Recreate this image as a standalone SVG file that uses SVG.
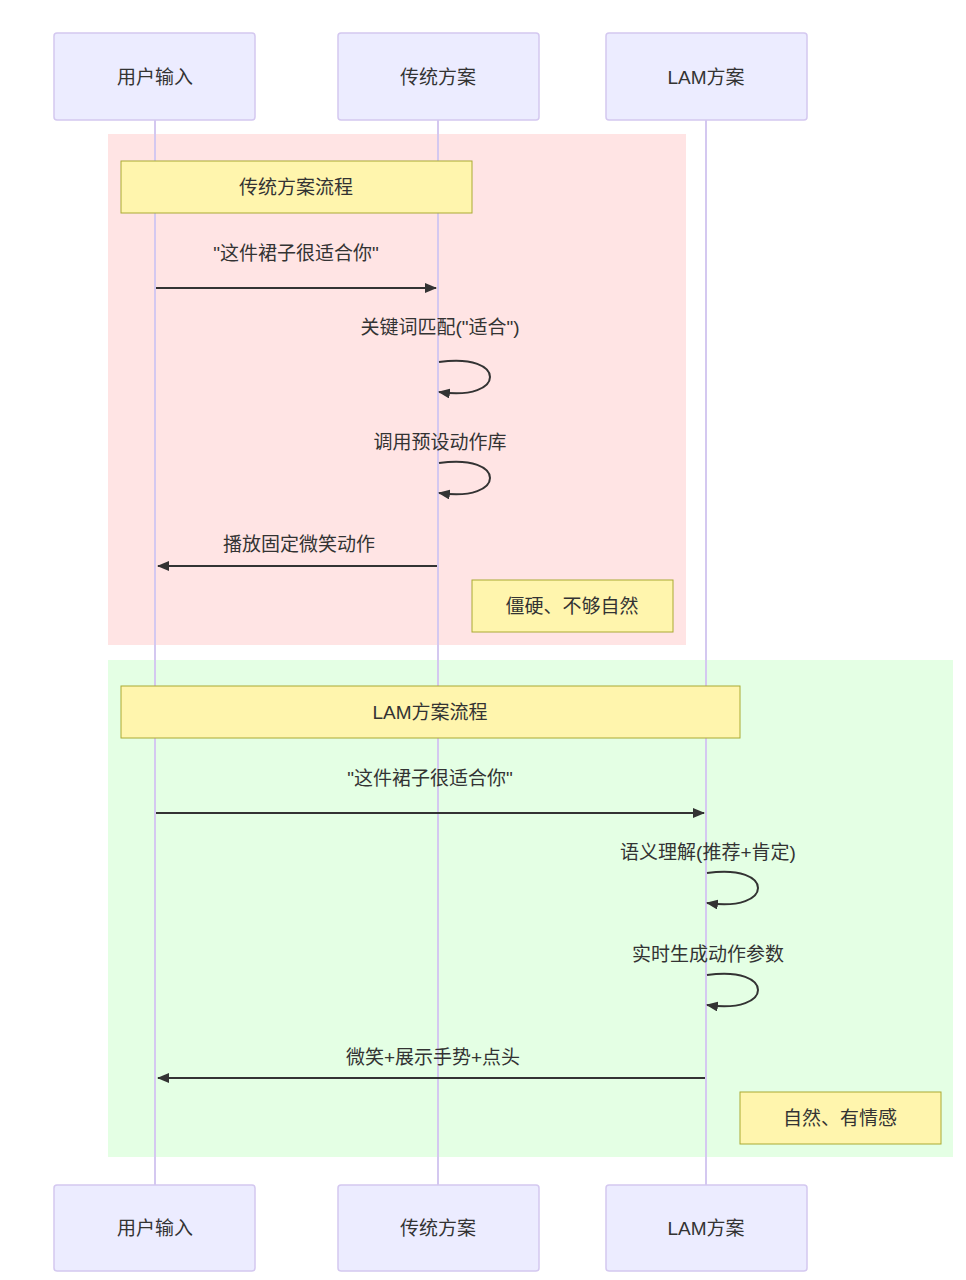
<svg xmlns="http://www.w3.org/2000/svg" width="966" height="1280" viewBox="0 0 966 1280">
<style>
text{font-family:"Liberation Sans","Noto Sans CJK SC",sans-serif;font-size:19px;fill:#333;text-anchor:middle;dominant-baseline:central}
.actor{fill:#ececff;stroke:#d4c8f0;stroke-width:1.5}
.note{fill:#fff5ad;stroke:#aaaa33;stroke-width:1}
.life{stroke:#d4c8f0;stroke-width:2}
.msg{stroke:#333;stroke-width:2;fill:none}
</style>
<defs><marker id="ah" viewBox="0 0 12 10" refX="11" refY="5" markerWidth="12" markerHeight="10" orient="auto" markerUnits="userSpaceOnUse"><path d="M0,0L12,5L0,10z" fill="#333"/></marker></defs>
<rect x="108" y="134" width="578" height="511" fill="#ffe4e4"/>
<rect x="108" y="660" width="845" height="497" fill="#e4ffe4"/>
<g id="lifelines">
<line class="life" x1="155" y1="120" x2="155" y2="1185"/>
<line class="life" x1="438" y1="120" x2="438" y2="1185"/>
<line class="life" x1="706" y1="120" x2="706" y2="1185"/>
</g>
<g id="p1"><rect class="actor" x="54" y="33" width="201" height="87" rx="3"/><text x="155" y="77">用户输入</text></g>
<g id="p2"><rect class="actor" x="338" y="33" width="201" height="87" rx="3"/><text x="438" y="77">传统方案</text></g>
<g id="p3"><rect class="actor" x="606" y="33" width="201" height="87" rx="3"/><text x="706" y="77">LAM方案</text></g>
<g id="p1b"><rect class="actor" x="54" y="1185" width="201" height="86" rx="3"/><text x="155" y="1228">用户输入</text></g>
<g id="p2b"><rect class="actor" x="338" y="1185" width="201" height="86" rx="3"/><text x="438" y="1228">传统方案</text></g>
<g id="p3b"><rect class="actor" x="606" y="1185" width="201" height="86" rx="3"/><text x="706" y="1228">LAM方案</text></g>
<g id="n1"><rect class="note" x="121" y="161" width="351" height="52"/><text x="296" y="187">传统方案流程</text></g>
<g id="n2"><rect class="note" x="472" y="580" width="201" height="52"/><text x="572" y="606">僵硬、不够自然</text></g>
<g id="n3"><rect class="note" x="121" y="686" width="619" height="52"/><text x="430" y="712">LAM方案流程</text></g>
<g id="n4"><rect class="note" x="740" y="1092" width="201" height="52"/><text x="840" y="1118">自然、有情感</text></g>
<g id="connectors">
<line class="msg" x1="156" y1="288" x2="436" y2="288" marker-end="url(#ah)"/>
<path class="msg" d="M439,362C507,352 507,402 439,392" marker-end="url(#ah)"/>
<path class="msg" d="M439,463C507,453 507,503 439,493" marker-end="url(#ah)"/>
<line class="msg" x1="437" y1="566" x2="158" y2="566" marker-end="url(#ah)"/>
<line class="msg" x1="156" y1="813" x2="704" y2="813" marker-end="url(#ah)"/>
<path class="msg" d="M707,873C775,863 775,913 707,903" marker-end="url(#ah)"/>
<path class="msg" d="M707,975C775,965 775,1015 707,1005" marker-end="url(#ah)"/>
<line class="msg" x1="705" y1="1078" x2="158" y2="1078" marker-end="url(#ah)"/>
<text x="296" y="253">"这件裙子很适合你"</text>
<text x="440" y="327">关键词匹配("适合")</text>
<text x="440" y="442">调用预设动作库</text>
<text x="299" y="544">播放固定微笑动作</text>
<text x="430" y="778">"这件裙子很适合你"</text>
<text x="708" y="852">语义理解(推荐+肯定)</text>
<text x="708" y="954">实时生成动作参数</text>
<text x="433" y="1057">微笑+展示手势+点头</text>
</g>
</svg>
